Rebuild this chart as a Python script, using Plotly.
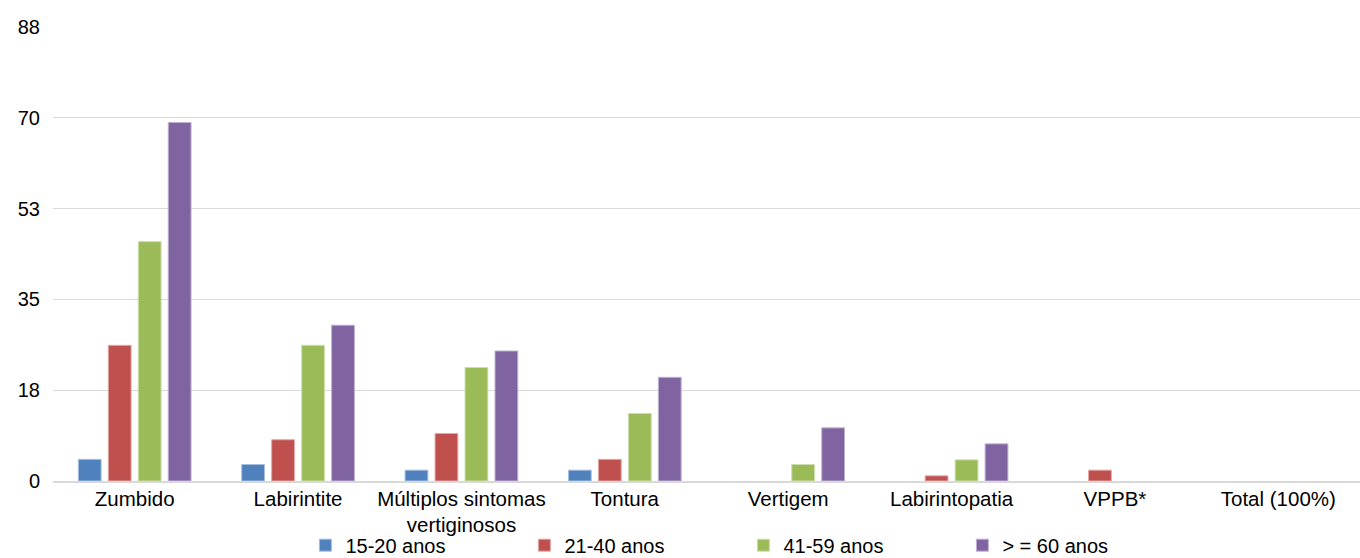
import plotly.graph_objects as go

categories = [
    "Zumbido",
    "Labirintite",
    "Múltiplos sintomas<br>vertiginosos",
    "Tontura",
    "Vertigem",
    "Labirintopatia",
    "VPPB*",
    "Total (100%)",
]

age_15_20 = [4.2, 3.2, 2.1, 2.1, None, None, None, None]
age_21_40 = [26.3, 8.0, 9.2, 4.2, None, 1.0, 2.1, None]
age_41_59 = [46.4, 26.3, 22.0, 13.1, 3.2, 4.1, None, None]
age_60_plus = [69.5, 30.2, 25.2, 20.1, 10.3, 7.2, None, None]

series_names = ["15-20 anos", "21-40 anos", "41-59 anos", "> = 60 anos"]
series_values = [age_15_20, age_21_40, age_41_59, age_60_plus]
series_colors = ["#4F81BD", "#C0504D", "#9BBB59", "#8064A2"]
edge_colors = ["#A7C0DE", "#E0A8A6", "#CDDDAC", "#BFB1D0"]

y_tick_values = [0, 17.6, 35.2, 52.8, 70.4, 88]
y_tick_labels = ["0", "18", "35", "53", "70", "88"]

FONT = "Liberation Sans, Arial, Helvetica, sans-serif"

fig = go.Figure()
for name, vals, color, edge in zip(series_names, series_values, series_colors, edge_colors):
    fig.add_trace(
        go.Bar(
            name=name,
            x=categories,
            y=vals,
            marker=dict(color=color, line=dict(color=edge, width=1)),
        )
    )

fig.update_layout(
    width=1360,
    height=558,
    margin=dict(l=53, r=0, t=27, b=77),
    paper_bgcolor="white",
    plot_bgcolor="white",
    barmode="group",
    bargap=0.266,
    bargroupgap=0.24,
    font=dict(family=FONT, size=20, color="#000000"),
    showlegend=True,
    legend=dict(
        orientation="h",
        x=0.1931,
        xanchor="left",
        yref="container",
        y=0.023,
        yanchor="middle",
        entrywidth=174,
        entrywidthmode="pixels",
        font=dict(family=FONT, size=20, color="#000000"),
        bgcolor="rgba(0,0,0,0)",
    ),
    xaxis=dict(
        type="category",
        automargin=False,
        showgrid=False,
        showline=True,
        linecolor="#D9D9D9",
        linewidth=2,
        ticks="",
        ticklabelstandoff=-2,
        tickfont=dict(family=FONT, size=20.5, color="#000000"),
    ),
    yaxis=dict(
        range=[0, 88],
        automargin=False,
        tickmode="array",
        tickvals=y_tick_values,
        ticktext=y_tick_labels,
        showgrid=True,
        gridcolor="#D9D9D9",
        gridwidth=1.3,
        zeroline=False,
        showline=False,
        ticks="",
        ticklabelstandoff=12,
        tickfont=dict(family=FONT, size=20, color="#000000"),
    ),
)

fig.write_html("out.html")
